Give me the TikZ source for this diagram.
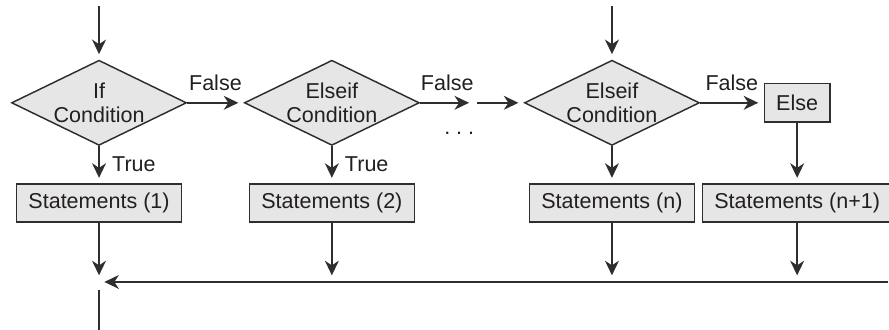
\documentclass[tikz,border=0pt]{standalone}
\usepackage{fontspec}
\setmainfont{Liberation Sans}
\usepackage{tikz}
\usetikzlibrary{arrows.meta,positioning,shapes.geometric,calc}

\definecolor{boxgray}{HTML}{E6E6E6}
\definecolor{linegray}{HTML}{2E2E2E}
\definecolor{textgray}{HTML}{231F20}

\begin{document}
\begin{tikzpicture}[
    font=\fontsize{16.2}{18}\selectfont,
    text=textgray,
    decision/.style={diamond, draw=linegray, line width=1.1pt, fill=boxgray, aspect=2, inner sep=0pt, minimum width=4.63cm, minimum height=2.25cm, align=center},
    block/.style={rectangle, draw=linegray, line width=1.1pt, fill=boxgray, inner xsep=9pt, minimum height=1.01cm},
    arrow/.style={-{Stealth[length=11pt, width=10.5pt, inset=3.5pt]}, draw=linegray, line width=1.1pt, shorten >=4pt},
    line/.style={draw=linegray, line width=1.1pt}
]
\useasboundingbox (0,0) rectangle (23.52,-8.73);

% Decisions
\node[decision] (d1) at (2.62,-2.72) {If\\Condition};
\node[decision] (d2) at (8.78,-2.72) {Elseif\\Condition};
\node[decision] (d3) at (16.19,-2.72) {Elseif\\Condition};
\node[block] (else) at (21.09,-2.72) {Else};

% Statements
\node[block] (s1) at (2.62,-5.37) {Statements (1)};
\node[block] (s2) at (8.78,-5.37) {Statements (2)};
\node[block] (sn) at (16.19,-5.37) {Statements (n)};
\node[block] (sn1) at (21.09,-5.37) {Statements (n+1)};

% Entry, gap and merge points
\coordinate (in1) at (2.62,-0.17);
\coordinate (in3) at (16.19,-0.17);
\coordinate (g1) at (12.55,-2.72);
\coordinate (g2) at (12.62,-2.72);
\coordinate (join) at (2.62,-7.46);
\coordinate (jright) at (23.50,-7.46);
\coordinate (out) at (2.62,-8.73);
\node (dots) at (12.15,-3.52) {.\ .\ .};

\draw[arrow] (in1) -- (d1);
\draw[arrow] (in3) -- (d3);

\draw[arrow] (d1) -- node[above=5.5pt] {False} (d2);
\draw[arrow] (d2) -- node[above=5.5pt] {False} (g1);
\draw[arrow] (g2) -- (d3);
\draw[arrow] (d3) -- node[above=5.5pt] {False} (else);

\draw[arrow] (d1) -- node[right=6pt] {True} (s1);
\draw[arrow] (d2) -- node[right=6pt] {True} (s2);
\draw[arrow] (d3) -- (sn);
\draw[arrow] (else) -- (sn1);

% Merge
\foreach \s in {s1,s2,sn,sn1}
    \draw[arrow, shorten >=5pt] (\s) -- (\s |- join);
\draw[arrow] (jright) -- (join);
\draw[line] ([yshift=-0.21cm]join) -- (out);

\end{tikzpicture}
\end{document}
